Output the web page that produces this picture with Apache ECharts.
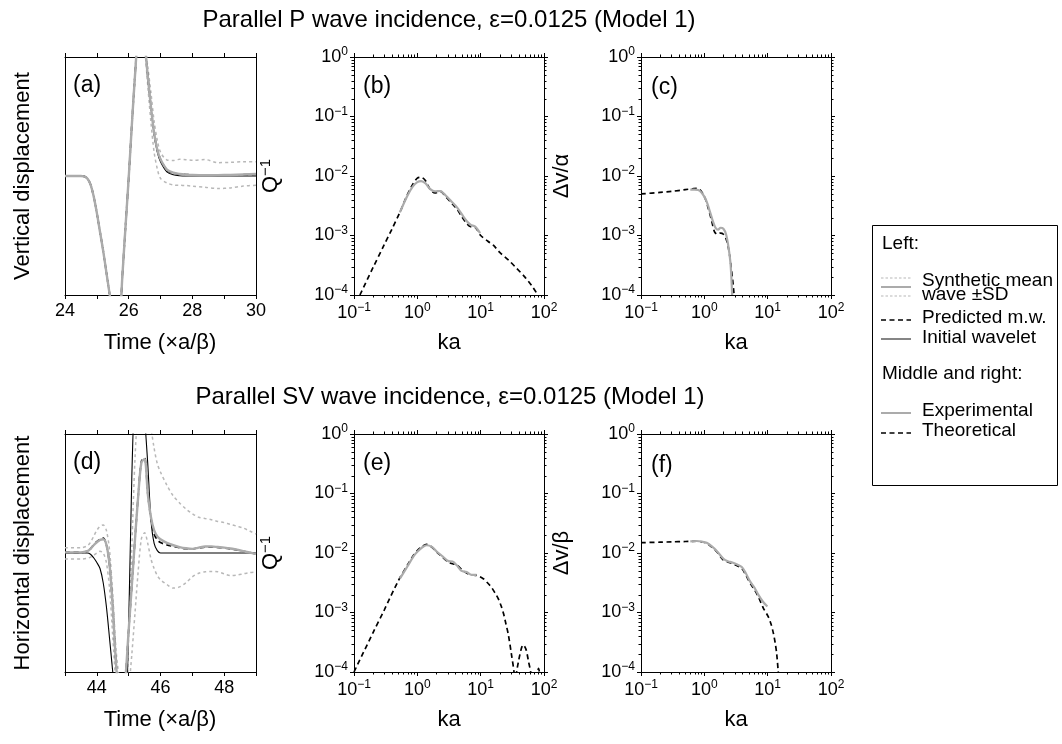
<!DOCTYPE html>
<html>
<head>
<meta charset="utf-8">
<script src="https://cdn.jsdelivr.net/npm/echarts@6/dist/echarts.min.js"></script>
<style>
  html, body { margin: 0; background: #fff; }
  #chart { width: 1062px; height: 744px; }
</style>
</head>
<body>
<div id="chart"></div>
<script>
// ---- panel (a): P wave, vertical displacement ----
const timeA = [24, 24.5, 24.6, 24.7, 24.8, 24.9, 25.0, 25.1, 25.2, 25.3, 25.4, 25.5, 25.6, 25.7, 25.8, 25.9, 26.0, 26.1, 26.2, 26.3, 26.4, 26.5, 26.6, 26.7, 26.8, 26.9, 27.0, 27.2, 27.4, 27.6, 27.8, 28.0, 28.4, 28.8, 29.2, 29.6, 30.0];
const meanA = [0, 0, -0.003, -0.02, -0.07, -0.17, -0.31, -0.47, -0.63, -0.81, -0.99, -1.17, -1.35, -1.3, -0.85, -0.43, -0.02, 0.43, 0.85, 1.2, 1.3, 1.12, 0.84, 0.58, 0.36, 0.22, 0.14, 0.055, 0.028, 0.017, 0.011, 0.008, 0.006, 0.007, 0.009, 0.013, 0.017];
const upperA = [0, 0, -0.002, -0.018, -0.065, -0.16, -0.3, -0.46, -0.62, -0.8, -0.98, -1.16, -1.34, -1.28, -0.82, -0.4, 0.01, 0.46, 0.88, 1.23, 1.33, 1.16, 0.92, 0.7, 0.46, 0.3, 0.2, 0.135, 0.13, 0.14, 0.137, 0.132, 0.138, 0.112, 0.115, 0.12, 0.12];
const lowerA = [0, 0, -0.004, -0.022, -0.075, -0.18, -0.32, -0.48, -0.64, -0.82, -1.0, -1.18, -1.36, -1.32, -0.88, -0.46, -0.05, 0.4, 0.82, 1.17, 1.27, 1.08, 0.76, 0.45, 0.2, 0.06, -0.02, -0.058, -0.075, -0.078, -0.08, -0.085, -0.095, -0.105, -0.1, -0.085, -0.078];
const predA = [0, 0, -0.003, -0.02, -0.07, -0.17, -0.31, -0.47, -0.63, -0.81, -0.99, -1.17, -1.35, -1.3, -0.85, -0.43, -0.02, 0.43, 0.85, 1.2, 1.3, 1.12, 0.84, 0.58, 0.36, 0.22, 0.14, 0.05, 0.025, 0.016, 0.012, 0.01, 0.008, 0.008, 0.009, 0.011, 0.013];
const initA = [0, 0, -0.003, -0.02, -0.07, -0.17, -0.31, -0.47, -0.63, -0.81, -0.99, -1.17, -1.35, -1.3, -0.85, -0.43, -0.02, 0.43, 0.85, 1.2, 1.3, 1.12, 0.84, 0.58, 0.35, 0.2, 0.12, 0.035, 0.01, 0.002, 0, 0, 0, 0, 0, 0, 0];

// ---- panel (d): SV wave, horizontal displacement ----
const timeD = [43, 43.5, 43.7, 43.8, 43.9, 44.0, 44.1, 44.2, 44.3, 44.4, 44.5, 44.6, 44.7, 44.8, 44.9, 45.0, 45.1, 45.2, 45.3, 45.4, 45.5, 45.6, 45.7, 45.8, 45.9, 46.0, 46.2, 46.4, 46.6, 46.8, 47.0, 47.2, 47.4, 47.6, 47.8, 48.0, 48.2, 48.4, 48.6, 48.8, 49.0];
const meanD = [0.005, 0.005, 0.015, 0.035, 0.065, 0.09, 0.11, 0.115, 0.07, -0.1, -0.45, -0.92, -1.2, -1.3, -1.05, -0.65, -0.27, 0.12, 0.48, 0.76, 0.79, 0.5, 0.3, 0.19, 0.14, 0.115, 0.085, 0.065, 0.05, 0.04, 0.035, 0.045, 0.055, 0.055, 0.05, 0.045, 0.038, 0.028, 0.015, 0.004, -0.008];
const upperD = [0.045, 0.045, 0.06, 0.09, 0.14, 0.19, 0.225, 0.235, 0.19, 0.02, -0.35, -0.8, -1.05, -1.2, -1.25, -0.7, 0.05, 0.8, 1.2, 1.3, 1.3, 1.2, 1.05, 0.88, 0.75, 0.68, 0.57, 0.48, 0.42, 0.37, 0.33, 0.3, 0.29, 0.28, 0.265, 0.255, 0.24, 0.225, 0.21, 0.185, 0.16];
const lowerD = [-0.05, -0.05, -0.045, -0.035, -0.02, 0.0, 0.015, 0.0, -0.08, -0.3, -0.7, -1.1, -1.4, -1.5, -1.4, -1.15, -0.85, -0.5, -0.15, 0.12, 0.17, 0.08, -0.05, -0.13, -0.19, -0.225, -0.265, -0.295, -0.285, -0.25, -0.2, -0.17, -0.158, -0.155, -0.158, -0.175, -0.19, -0.185, -0.175, -0.165, -0.16];
const predD = [0.005, 0.005, 0.015, 0.035, 0.068, 0.095, 0.115, 0.125, 0.07, -0.1, -0.45, -0.92, -1.2, -1.3, -1.05, -0.65, -0.27, 0.12, 0.48, 0.77, 0.8, 0.5, 0.29, 0.16, 0.11, 0.088, 0.068, 0.055, 0.044, 0.036, 0.035, 0.043, 0.05, 0.05, 0.047, 0.042, 0.035, 0.026, 0.014, 0.004, -0.008];
const initD = [0, 0, 0, -0.01, -0.04, -0.08, -0.13, -0.25, -0.45, -0.72, -1.0, -1.3, -1.55, -1.6, -1.5, -0.6, 0.65, 1.45, 1.7, 1.6, 1.15, 0.75, 0.28, 0.08, 0.02, 0, 0, 0, 0, 0, 0, 0, 0, 0, 0, 0, 0, 0, 0, 0, 0];

// ---- panel (b): Q^-1, P wave ----
const kaTheoB = [0.124, 0.2, 0.3, 0.4, 0.53, 0.7, 0.85, 1.0, 1.15, 1.35, 1.6, 1.9, 2.3, 2.8, 3.4, 4.2, 5.0, 6.0, 7.0, 8.1, 9.0, 10, 13, 16, 20, 28, 37, 50, 65, 80];
const qTheoB = [1.0e-4, 2.9e-4, 7.0e-4, 1.3e-3, 2.45e-3, 4.9e-3, 7.3e-3, 9.2e-3, 9.5e-3, 8.3e-3, 5.9e-3, 5.2e-3, 5.5e-3, 4.5e-3, 3.6e-3, 2.8e-3, 2.1e-3, 1.6e-3, 1.4e-3, 1.38e-3, 1.2e-3, 1.0e-3, 8.0e-4, 6.8e-4, 5.2e-4, 3.8e-4, 2.8e-4, 2.0e-4, 1.4e-4, 1.0e-4];
const kaExpB = [0.53, 0.7, 0.85, 1.0, 1.15, 1.35, 1.6, 1.9, 2.3, 2.8, 3.4, 4.2, 5.0, 6.0, 7.0, 8.1, 9.8];
const qExpB = [2.45e-3, 4.7e-3, 6.7e-3, 7.9e-3, 8.2e-3, 7.5e-3, 6.0e-3, 5.5e-3, 5.6e-3, 4.7e-3, 3.8e-3, 3.0e-3, 2.3e-3, 1.75e-3, 1.5e-3, 1.42e-3, 1.1e-3];

// ---- panel (c): dv/alpha, P wave ----
const kaTheoC = [0.1, 0.2, 0.3, 0.5, 0.65, 0.76, 0.85, 0.95, 1.05, 1.15, 1.3, 1.45, 1.6, 1.8, 2.0, 2.2, 2.4, 2.6, 2.8, 2.95];
const vTheoC = [5.0e-3, 5.3e-3, 5.5e-3, 5.9e-3, 6.1e-3, 6.2e-3, 5.9e-3, 5.0e-3, 4.0e-3, 2.9e-3, 1.8e-3, 1.15e-3, 1.05e-3, 1.1e-3, 1.05e-3, 8.8e-4, 6.2e-4, 3.5e-4, 1.8e-4, 1.0e-4];
const kaExpC = [0.6, 0.7, 0.8, 0.9, 1.0, 1.1, 1.2, 1.35, 1.5, 1.65, 1.8, 2.0, 2.2, 2.4, 2.6, 2.75];
const vExpC = [5.9e-3, 5.9e-3, 5.8e-3, 5.3e-3, 4.5e-3, 3.6e-3, 2.7e-3, 1.8e-3, 1.35e-3, 1.25e-3, 1.35e-3, 1.3e-3, 1.05e-3, 6.5e-4, 3.2e-4, 1.0e-4];

// ---- panel (e): Q^-1, SV wave ----
const kaTheoE = [0.1, 0.2, 0.3, 0.5, 0.7, 0.87, 1.0, 1.2, 1.4, 1.7, 2.0, 2.5, 3.1, 3.6, 4.2, 5.0, 6.0, 7.2, 8.6, 11, 13, 15, 17, 19, 21, 23, 25, 27.4, 30.8, 33.6, 35, 37, 40, 44, 47, 52, 57, 61.6, 65, 72, 78, 82, 86, 90];
const qTheoE = [1.0e-4, 4.6e-4, 1.1e-3, 3.4e-3, 6.3e-3, 9.2e-3, 1.1e-2, 1.3e-2, 1.4e-2, 1.25e-2, 1.05e-2, 8.5e-3, 7.0e-3, 6.6e-3, 6.3e-3, 5.3e-3, 4.6e-3, 4.3e-3, 4.2e-3, 3.7e-3, 3.1e-3, 2.6e-3, 2.1e-3, 1.7e-3, 1.3e-3, 9.5e-4, 6.5e-4, 4.2e-4, 1.9e-4, 1.0e-4, 5e-5, 1.0e-4, 1.6e-4, 2.5e-4, 2.85e-4, 2.4e-4, 1.5e-4, 1.0e-4, 6e-5, 4e-5, 8e-5, 1.15e-4, 9e-5, 5e-5];
const kaExpE = [0.53, 0.7, 0.87, 1.0, 1.2, 1.4, 1.7, 2.0, 2.5, 3.1, 3.6, 4.2, 5.0, 6.0, 7.2, 8.6];
const qExpE = [3.7e-3, 6.0e-3, 8.8e-3, 1.05e-2, 1.25e-2, 1.35e-2, 1.27e-2, 1.07e-2, 8.8e-3, 7.3e-3, 7.2e-3, 6.2e-3, 5.0e-3, 4.8e-3, 4.3e-3, 4.3e-3];

// ---- panel (f): dv/beta, SV wave ----
const kaTheoF = [0.1, 0.2, 0.3, 0.5, 0.76, 0.9, 1.09, 1.3, 1.57, 2.0, 2.4, 2.7, 3.3, 3.9, 4.5, 5.3, 6.2, 7.1, 8.5, 10.2, 11.3, 12.3, 13.2, 13.9, 14.7];
const vTheoF = [1.49e-2, 1.52e-2, 1.54e-2, 1.56e-2, 1.58e-2, 1.54e-2, 1.46e-2, 1.27e-2, 1.05e-2, 7.6e-3, 7.0e-3, 6.7e-3, 6.1e-3, 5.5e-3, 4.3e-3, 3.1e-3, 2.4e-3, 1.85e-3, 1.2e-3, 8.5e-4, 6.4e-4, 4.5e-4, 3.0e-4, 2.0e-4, 1.0e-4];
const kaExpF = [0.6, 0.76, 0.9, 1.09, 1.3, 1.57, 2.0, 2.4, 2.7, 3.3, 3.9, 4.5, 5.3, 6.2, 7.1, 8.5, 9.9];
const vExpF = [1.57e-2, 1.59e-2, 1.56e-2, 1.48e-2, 1.3e-2, 1.08e-2, 8.0e-3, 7.2e-3, 7.0e-3, 6.4e-3, 5.8e-3, 4.6e-3, 3.3e-3, 2.6e-3, 2.0e-3, 1.5e-3, 1.26e-3];

// ---- axis ranges and minor ticks ----
const timeRangeA = [24, 30];
const timeRangeD = [43, 49];
const kaRange = [0.1, 100];
const logRange = [1e-4, 1];
const minorKa = [];
const minorVal = [];
[0.1, 1, 10].forEach(d => { for (let k = 2; k <= 9; k++) minorKa.push(d * k); });
[1e-4, 1e-3, 1e-2, 1e-1].forEach(d => { for (let k = 2; k <= 9; k++) minorVal.push(d * k); });

const FONT = '"Liberation Sans", Arial, Helvetica, sans-serif';
const GRAY = '#ababab';
const SDGRAY = '#b8b8b8';

const zip = (xs, ys) => xs.map((x, i) => [x, ys[i]]);

const grids = [
  { left: 65, top: 57, width: 191, height: 238 },
  { left: 354, top: 57, width: 190, height: 238 },
  { left: 641, top: 57, width: 190, height: 238 },
  { left: 65, top: 434, width: 191, height: 238 },
  { left: 354, top: 434, width: 190, height: 238 },
  { left: 641, top: 434, width: 190, height: 238 }
];

const axisLine = { show: true, onZero: false, lineStyle: { color: '#000', width: 1 } };
const tick = { show: true, inside: false, length: 4, lineStyle: { color: '#000', width: 1 } };
const noSplit = { show: false };

function powLabel(v) {
  const e = Math.round(Math.log10(v));
  return '{b|10}{s|' + (e < 0 ? '\u2212' + (-e) : e) + '}';
}
const powRich = {
  b: { fontSize: 18, lineHeight: 22, fontFamily: FONT, color: '#000' },
  s: { fontSize: 12, lineHeight: 12, verticalAlign: 'top', fontFamily: FONT, color: '#000' }
};

const xAxes = [];
const yAxes = [];

function linearPanel(g, range) {
  const base = { type: 'value', gridIndex: g, min: range[0], max: range[1], interval: 1, splitLine: noSplit, axisLine, axisTick: tick };
  xAxes.push(Object.assign({}, base, {
    position: 'bottom',
    axisLabel: { margin: 7, color: '#000', fontSize: 18, fontFamily: FONT, formatter: v => (v % 2 === 0 ? String(v) : '') }
  }));
  xAxes.push(Object.assign({}, base, { position: 'top', axisLabel: { show: false } }));
  ['left', 'right'].forEach(p => yAxes.push({
    type: 'value', gridIndex: g, min: -1, max: 1, position: p,
    axisLine, axisTick: { show: false }, axisLabel: { show: false }, splitLine: noSplit
  }));
}

function logPanel(g) {
  const xb = { type: 'log', logBase: 10, gridIndex: g, min: kaRange[0], max: kaRange[1], splitLine: noSplit, axisLine, axisTick: tick };
  xAxes.push(Object.assign({}, xb, { position: 'bottom', axisLabel: { margin: 7, formatter: powLabel, rich: powRich } }));
  xAxes.push(Object.assign({}, xb, { position: 'top', axisLabel: { show: false } }));
  const yb = { type: 'log', logBase: 10, gridIndex: g, min: logRange[0], max: logRange[1], splitLine: noSplit, axisLine, axisTick: tick };
  yAxes.push(Object.assign({}, yb, { position: 'left', axisLabel: { margin: 6, formatter: powLabel, rich: powRich } }));
  yAxes.push(Object.assign({}, yb, { position: 'right', axisLabel: { show: false } }));
}

linearPanel(0, timeRangeA);
logPanel(1);
logPanel(2);
linearPanel(3, timeRangeD);
logPanel(4);
logPanel(5);

function line(g, data, style) {
  return {
    type: 'line', xAxisIndex: g * 2, yAxisIndex: g * 2, data,
    symbol: 'none', smooth: 0.3, clip: true, silent: true,
    lineStyle: style, animation: false
  };
}
const sdStyle = { color: SDGRAY, width: 1.5, type: [3, 3] };
const meanStyle = { color: GRAY, width: 2.4 };
const dashStyle = { color: '#000', width: 1.7, type: [5, 3.5] };
const initStyle = { color: '#000', width: 1.1 };
const expStyle = { color: GRAY, width: 2.2 };

// minor log ticks on all four sides, placed through the axes
function minorTicks(g) {
  const data = minorKa.map(v => [v, logRange[0], 0]).concat(minorVal.map(v => [kaRange[0], v, 1]));
  return {
    type: 'custom', xAxisIndex: g * 2, yAxisIndex: g * 2, silent: true, clip: false, animation: false,
    data,
    renderItem(params, api) {
      const cs = params.coordSys;
      const p = api.coord([api.value(0), api.value(1)]);
      const len = 2.5;
      let segs;
      if (api.value(2) === 0) {
        const x = Math.round(p[0]) + 0.5;
        segs = [[x, cs.y, x, cs.y - len], [x, cs.y + cs.height, x, cs.y + cs.height + len]];
      } else {
        const y = Math.round(p[1]) + 0.5;
        segs = [[cs.x, y, cs.x - len, y], [cs.x + cs.width, y, cs.x + cs.width + len, y]];
      }
      return {
        type: 'group',
        children: segs.map(s => ({ type: 'line', shape: { x1: s[0], y1: s[1], x2: s[2], y2: s[3] }, style: { stroke: '#000', lineWidth: 1 } }))
      };
    }
  };
}

const series = [
  line(0, zip(timeA, upperA), sdStyle),
  line(0, zip(timeA, lowerA), sdStyle),
  line(0, zip(timeA, initA), initStyle),
  line(0, zip(timeA, predA), dashStyle),
  line(0, zip(timeA, meanA), meanStyle),

  line(1, zip(kaTheoB, qTheoB), dashStyle),
  line(1, zip(kaExpB, qExpB), expStyle),
  minorTicks(1),

  line(2, zip(kaTheoC, vTheoC), dashStyle),
  line(2, zip(kaExpC, vExpC), expStyle),
  minorTicks(2),

  line(3, zip(timeD, upperD), sdStyle),
  line(3, zip(timeD, lowerD), sdStyle),
  line(3, zip(timeD, initD), initStyle),
  line(3, zip(timeD, predD), dashStyle),
  line(3, zip(timeD, meanD), meanStyle),

  line(4, zip(kaTheoE, qTheoE), dashStyle),
  line(4, zip(kaExpE, qExpE), expStyle),
  minorTicks(4),

  line(5, zip(kaTheoF, vTheoF), dashStyle),
  line(5, zip(kaExpF, vExpF), expStyle),
  minorTicks(5)
];

// ---- texts and legend ----
function text(x, y, str, size, opts) {
  return Object.assign({
    type: 'text', x, y, silent: true,
    style: Object.assign({ text: str, fontSize: size, fontFamily: FONT, fill: '#000', align: 'center', verticalAlign: 'middle' }, (opts && opts.style) || {})
  }, (opts && opts.el) || {});
}
const rot = { el: { rotation: Math.PI / 2 } };
const left = { style: { align: 'left' } };
const supRich = { rich: { s: { fontSize: 15, fontFamily: FONT, verticalAlign: 'top', lineHeight: 14 }, b: { fontSize: 22, fontFamily: FONT, lineHeight: 26 } } };

const graphic = [
  text(449, 20, 'Parallel P wave incidence, \u03b5=0.0125 (Model 1)', 24),
  text(450, 397, 'Parallel SV wave incidence, \u03b5=0.0125 (Model 1)', 24),

  text(23, 176, 'Vertical displacement', 22, rot),
  text(23, 553, 'Horizontal displacement', 22, rot),
  text(271, 176, '{b|Q}{s|\u22121}', 22, { el: rot.el, style: supRich }),
  text(271, 553, '{b|Q}{s|\u22121}', 22, { el: rot.el, style: supRich }),
  text(562, 176, '\u0394v/\u03b1', 22, rot),
  text(562, 553, '\u0394v/\u03b2', 22, rot),

  text(160, 343, 'Time (\u00d7a/\u03b2)', 22),
  text(160, 720, 'Time (\u00d7a/\u03b2)', 22),
  text(449, 343, 'ka', 22),
  text(736, 343, 'ka', 22),
  text(449, 720, 'ka', 22),
  text(736, 720, 'ka', 22),

  text(73, 86, '(a)', 23, left),
  text(363, 87, '(b)', 23, left),
  text(651, 88, '(c)', 23, left),
  text(73, 463, '(d)', 23, left),
  text(363, 464, '(e)', 23, left),
  text(651, 466, '(f)', 23, left),

  { type: 'rect', silent: true, shape: { x: 872.5, y: 225.5, width: 185, height: 260 }, style: { fill: '#fff', stroke: '#000', lineWidth: 1 } },
  text(882, 244, 'Left:', 19, left),
  text(922, 281, 'Synthetic mean', 19, left),
  text(922, 295, 'wave \u00b1SD', 19, left),
  text(922, 318, 'Predicted m.w.', 19, left),
  text(922, 338, 'Initial wavelet', 19, left),
  text(882, 374, 'Middle and right:', 19, left),
  text(922, 411, 'Experimental', 19, left),
  text(922, 431, 'Theoretical', 19, left)
];
function legendLine(y, stroke, width, dash) {
  graphic.push({ type: 'line', silent: true, shape: { x1: 881, y1: y, x2: 911, y2: y }, style: { stroke, lineWidth: width, lineDash: dash || null } });
}
legendLine(278, SDGRAY, 1.2, [2.5, 2]);
legendLine(287, GRAY, 2);
legendLine(296, SDGRAY, 1.2, [2.5, 2]);
legendLine(320, '#000', 1.7, [5, 3.5]);
legendLine(339, '#666', 1.6);
legendLine(413, GRAY, 2);
legendLine(433, '#000', 1.7, [5, 3.5]);

const chart = echarts.init(document.getElementById('chart'));
chart.setOption({
  animation: false,
  backgroundColor: '#fff',
  textStyle: { fontFamily: FONT },
  grid: grids,
  xAxis: xAxes,
  yAxis: yAxes,
  series,
  graphic
});
</script>
</body>
</html>
